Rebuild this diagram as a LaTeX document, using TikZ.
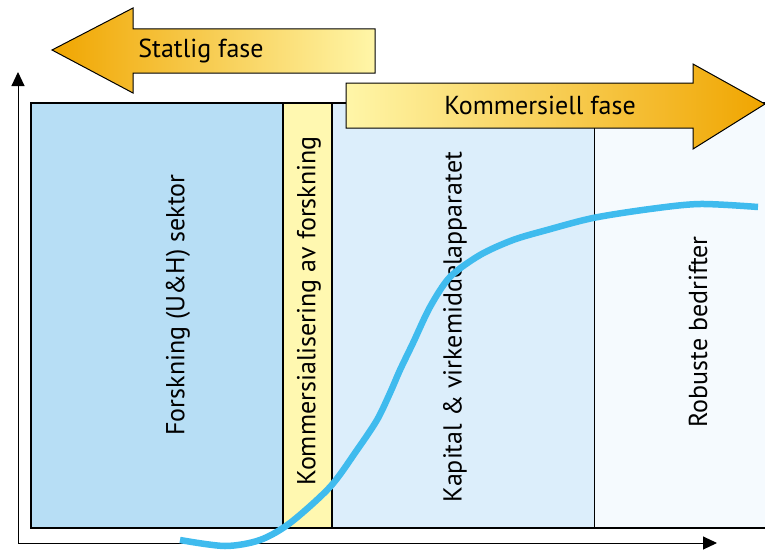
\documentclass[tikz,border=0pt]{standalone}
\usepackage{fontspec}
\setmainfont{PT Sans}
\usetikzlibrary{arrows.meta}
\definecolor{panelA}{HTML}{B7DEF5}
\definecolor{panelB}{HTML}{FFF8B0}
\definecolor{panelC}{HTML}{DCEEFB}
\definecolor{panelD}{HTML}{F5FAFE}
\definecolor{curveblue}{HTML}{3FBBEE}
\definecolor{arrowdark}{HTML}{F0A500}
\definecolor{arrowlight}{HTML}{FFF6A8}
\tikzset{
  label/.style={rotate=90, font=\fontsize{26}{30}\selectfont},
  phase/.style={font=\fontsize{26}{30}\selectfont},
  axis/.style={line width=1pt, -{Triangle[length=14pt,width=13pt]}},
}
\begin{document}
\begin{tikzpicture}[x=1pt,y=-1pt]
  \useasboundingbox (0,0) rectangle (765,551);

  % Panels
  \fill[panelA] (31,103) rectangle (283,528);
  \fill[panelB] (283,103) rectangle (332,528);
  \fill[panelC] (332,103) rectangle (594,528);
  \fill[panelD] (594,103) rectangle (765,528);
  \draw[line width=0.8pt] (594,103) -- (594,528);
  \draw[line width=1.6pt] (283,103) rectangle (332,528);
  \draw[line width=1.8pt] (765,103) -- (31,103) -- (31,528) -- (765,528);

  % Axes
  \coordinate (origin) at (18,543);
  \coordinate (ytop) at (18,72);
  \coordinate (xend) at (717,543);
  \draw[axis] (origin) -- (ytop);
  \draw[axis] (origin) -- (xend);

  % Phase arrows
  \shadedraw[left color=arrowdark, right color=arrowlight, line width=1pt]
    (52,50) -- (133,8) -- (133,29) -- (375,29) -- (375,73) -- (133,73) -- (133,93) -- cycle;
  \shadedraw[left color=arrowlight, right color=arrowdark, line width=1pt]
    (346,83) -- (693,83) -- (693,64) -- (765,104) -- (693,149) -- (693,128) -- (346,128) -- cycle;
  \node[phase] (statlig) at (201,51) {Statlig fase};
  \node[phase] (kommersiell) at (540,105) {Kommersiell fase};

  % Labels
  \node[label] (forskning) at (178,305) {Forskning (U\&H) sektor};
  \node[label] (kommersialisering) at (309,311) {Kommersialisering av forskning};
  \node[label] (kapital) at (455,327) {Kapital \& virkemiddelapparatet};
  \node[label] (robuste) at (698,332) {Robuste bedrifter};

  % Curve
  \draw[curveblue, line width=6.5pt] plot[smooth, tension=0.5] coordinates {
    (180,540) (225,546) (260,540) (290,523) (330,487) (357,450) (377,420)
    (390,393) (400,370) (413,343) (430,307) (450,277) (480,255) (513,240)
    (547,230) (593,218) (650,209) (700,204) (758,207)};
\end{tikzpicture}
\end{document}
